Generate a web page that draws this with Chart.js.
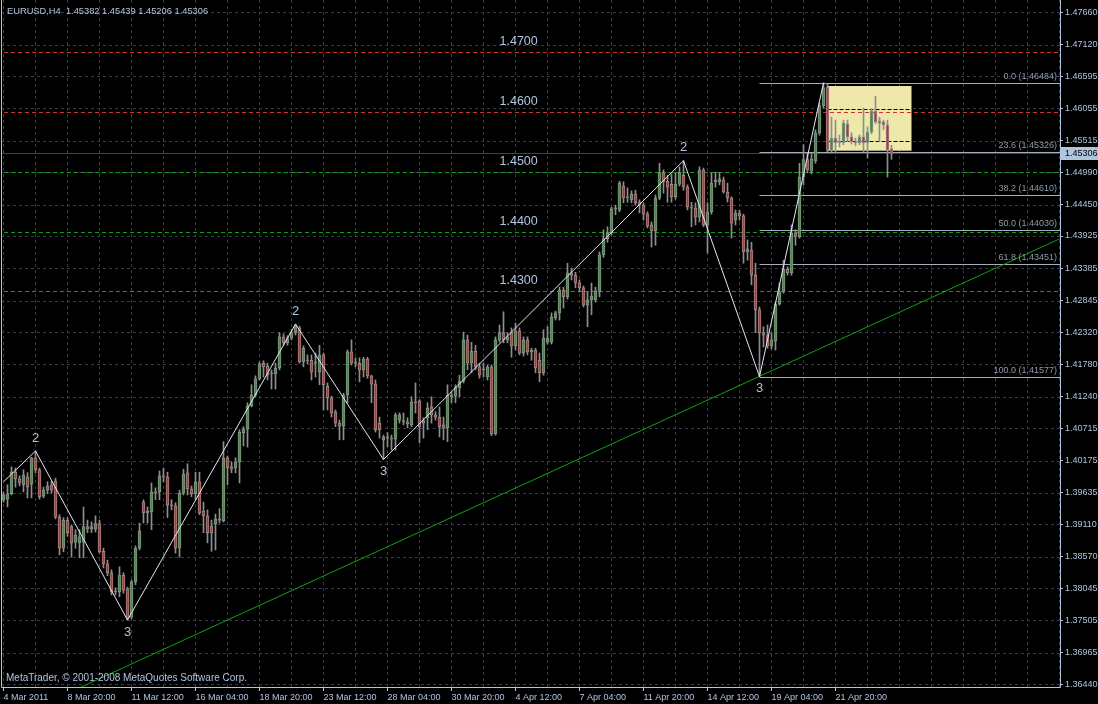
<!DOCTYPE html>
<html>
<head>
<meta charset="utf-8">
<title>EURUSD,H4</title>
<style>
  html, body { margin: 0; padding: 0; background: #000; }
  #wrap { width: 1098px; height: 704px; position: relative; background: #000; }
  canvas { display: block; }
</style>
<script src="https://cdn.jsdelivr.net/npm/chart.js@4.4.0/dist/chart.umd.min.js"></script>
</head>
<body>
<div id="wrap"><canvas id="chart" width="1098" height="704"></canvas></div>
<script>
// ---- instrument ----
const symbol = 'EURUSD';
const period = 'H4';

// ---- time axis labels (one every 16 bars) ----
const timeLabels = ['4 Mar 2011', '8 Mar 20:00', '11 Mar 12:00', '16 Mar 04:00', '18 Mar 20:00',
  '23 Mar 12:00', '28 Mar 04:00', '30 Mar 20:00', '4 Apr 12:00', '7 Apr 04:00', '11 Apr 20:00',
  '14 Apr 12:00', '19 Apr 04:00', '21 Apr 20:00'];

// ---- price axis labels ----
const priceTicks = [1.47660, 1.47120, 1.46595, 1.46055, 1.45515, 1.44990, 1.44450, 1.43925,
  1.43385, 1.42845, 1.42320, 1.41780, 1.41240, 1.40715, 1.40175, 1.39635, 1.39110, 1.38570,
  1.38045, 1.37505, 1.36965, 1.36440];

// ---- H4 candles ----
const opens = [
  1.3952,1.3953,1.3962,1.3998,1.3987,1.3977,1.3990,1.3978,1.4022,1.4002,
  1.3958,1.3968,1.3977,1.3983,1.3923,1.3871,1.3918,1.3907,1.3881,1.3880,
  1.3881,1.3907,1.3903,1.3903,1.3912,1.3866,1.3845,1.3830,1.3798,1.3798,
  1.3826,1.3803,1.3756,1.3815,1.3871,1.3948,1.3930,1.3932,1.3965,1.3965,
  1.3992,1.3990,1.3943,1.3942,1.3871,1.3963,1.3997,1.3970,1.3962,1.3982,
  1.3933,1.3925,1.3908,1.3912,1.3918,1.3917,1.4022,1.4007,1.4005,1.4015,
  1.4064,1.4070,1.4109,1.4127,1.4154,1.4180,1.4175,1.4162,1.4162,1.4172,
  1.4224,1.4214,1.4222,1.4231,1.4239,1.4182,1.4185,1.4185,1.4180,1.4165,
  1.4194,1.4142,1.4122,1.4099,1.4080,1.4075,1.4127,1.4199,1.4180,1.4180,
  1.4169,1.4187,1.4159,1.4145,1.4080,1.4052,1.4057,1.4055,1.4053,1.4085,
  1.4084,1.4082,1.4077,1.4115,1.4117,1.4080,1.4089,1.4107,1.4094,1.4090,
  1.4077,1.4072,1.4127,1.4125,1.4139,1.4150,1.4219,1.4180,1.4200,1.4174,
  1.4169,1.4157,1.4174,1.4062,1.4219,1.4231,1.4219,1.4231,1.4209,1.4234,
  1.4197,1.4219,1.4199,1.4202,1.4185,1.4164,1.4215,1.4215,1.4256,1.4264,
  1.4302,1.4291,1.4331,1.4327,1.4314,1.4306,1.4277,1.4286,1.4286,1.4299,
  1.4361,1.4388,1.4398,1.4438,1.4436,1.4476,1.4458,1.4453,1.4463,1.4449,
  1.4444,1.4429,1.4411,1.4401,1.4456,1.4498,1.4484,1.4479,1.4458,1.4479,
  1.4494,1.4474,1.4441,1.4439,1.4424,1.4503,1.4411,1.4433,1.4483,1.4483,
  1.4486,1.4466,1.4456,1.4419,1.4431,1.4426,1.4366,1.4369,1.4327,1.4269,
  1.4231,1.4226,1.4209,1.4217,1.4279,1.4299,1.4337,1.4331,1.4398,1.4391,
  1.4491,1.4520,1.4501,1.4518,1.4565,1.4610,1.4641,1.4536,1.4556,1.4548,
  1.4548,1.4580,1.4558,1.4550,1.4548,1.4558,1.4548,1.4566,1.4601,1.4585,
  1.4583,1.4578,1.45382];
const highs = [
  1.3965,1.3977,1.4007,1.4005,1.3992,1.4002,1.3997,1.4023,1.40334,1.4005,
  1.3973,1.3982,1.3983,1.3988,1.3927,1.3922,1.3922,1.3910,1.3902,1.3902,
  1.3940,1.3918,1.3915,1.3925,1.3918,1.3871,1.3851,1.3835,1.3805,1.3840,
  1.3830,1.3806,1.3818,1.3875,1.3913,1.3952,1.3940,1.3980,1.3972,1.4000,
  1.4005,1.3998,1.3952,1.3947,1.3968,1.4003,1.4012,1.3975,1.3998,1.3998,
  1.3948,1.3935,1.3918,1.3928,1.3937,1.4049,1.4025,1.4015,1.4022,1.4069,
  1.4074,1.4114,1.4144,1.4159,1.4182,1.4184,1.4180,1.4169,1.4180,1.4231,
  1.4229,1.4226,1.4236,1.42455,1.4242,1.4209,1.4194,1.4194,1.4197,1.4210,
  1.4197,1.4147,1.4125,1.4102,1.4085,1.4130,1.4202,1.4219,1.4189,1.4189,
  1.4190,1.4190,1.4160,1.4152,1.4090,1.4060,1.4064,1.4060,1.4097,1.4097,
  1.4097,1.4089,1.4124,1.4147,1.4119,1.4089,1.4114,1.4124,1.4099,1.4107,
  1.4090,1.4144,1.4132,1.4144,1.4160,1.4232,1.4227,1.4215,1.4210,1.4180,
  1.4180,1.4177,1.4177,1.4224,1.4244,1.4266,1.4231,1.4239,1.4247,1.4239,
  1.4224,1.4224,1.4205,1.4205,1.4197,1.4236,1.4241,1.4264,1.4267,1.4307,
  1.4307,1.4347,1.4339,1.4332,1.4319,1.4309,1.4299,1.4314,1.4307,1.4366,
  1.4403,1.4408,1.4441,1.4444,1.4484,1.4483,1.4473,1.4468,1.4469,1.4453,
  1.4448,1.4433,1.4416,1.4461,1.4514,1.4503,1.4494,1.4496,1.4498,1.4508,
  1.45183,1.4478,1.4449,1.4448,1.4508,1.4506,1.4448,1.4498,1.4499,1.4498,
  1.4491,1.4481,1.4458,1.4436,1.4436,1.4429,1.4386,1.4382,1.4347,1.4274,
  1.4241,1.4244,1.4231,1.4282,1.4314,1.4352,1.4341,1.4411,1.4403,1.4514,
  1.4545,1.4531,1.4531,1.4570,1.4615,1.46484,1.4646,1.4591,1.4586,1.4561,
  1.4586,1.4586,1.4565,1.4556,1.4561,1.4606,1.4575,1.4605,1.4626,1.4591,
  1.4586,1.4586,1.45439];
const lows = [
  1.3948,1.3940,1.3960,1.3973,1.3975,1.3965,1.3955,1.3955,1.3997,1.3953,
  1.3955,1.3962,1.3963,1.3920,1.3860,1.3865,1.3891,1.3856,1.3871,1.3855,
  1.3855,1.3897,1.3897,1.3898,1.3863,1.3838,1.3825,1.3793,1.3793,1.3790,
  1.3796,1.37511,1.3753,1.3810,1.3868,1.3913,1.3913,1.3902,1.3952,1.3952,
  1.3982,1.3922,1.3935,1.3863,1.3856,1.3960,1.3960,1.3957,1.3952,1.3927,
  1.3897,1.3880,1.3866,1.3868,1.3913,1.3915,1.3977,1.3997,1.3997,1.3980,
  1.4042,1.4040,1.4107,1.4124,1.4152,1.4157,1.4152,1.4137,1.4137,1.4169,
  1.4210,1.4210,1.4219,1.4227,1.4180,1.4174,1.4179,1.4152,1.4157,1.4144,
  1.4102,1.4102,1.4090,1.4074,1.4052,1.4052,1.4114,1.4177,1.4174,1.4149,
  1.4157,1.4155,1.4114,1.4065,1.4055,1.40192,1.4040,1.4035,1.4035,1.4080,
  1.4077,1.4072,1.4074,1.4097,1.4047,1.4055,1.4069,1.4080,1.4085,1.4057,
  1.4052,1.4049,1.4114,1.4114,1.4124,1.4147,1.4169,1.4164,1.4169,1.4155,
  1.4157,1.4152,1.4059,1.4060,1.4215,1.4214,1.4214,1.4190,1.4202,1.4194,
  1.4192,1.4194,1.4185,1.4164,1.4149,1.4160,1.4212,1.4212,1.4252,1.4252,
  1.4272,1.4287,1.4319,1.4306,1.4299,1.4274,1.4241,1.4261,1.4282,1.4291,
  1.4357,1.4382,1.4394,1.4428,1.4433,1.4448,1.4449,1.4448,1.4444,1.4431,
  1.4419,1.4406,1.4374,1.4377,1.4453,1.4464,1.4449,1.4449,1.4454,1.4476,
  1.4469,1.4436,1.4408,1.4411,1.4416,1.4408,1.4364,1.4429,1.4474,1.4478,
  1.4464,1.4449,1.4389,1.4411,1.4419,1.4347,1.4352,1.4311,1.4231,1.41577,
  1.4207,1.4205,1.4204,1.4202,1.4277,1.4297,1.4327,1.4327,1.4377,1.4389,
  1.4478,1.4498,1.4496,1.4514,1.4561,1.4606,1.4533,1.4531,1.4531,1.4541,
  1.4545,1.4550,1.4546,1.4543,1.4545,1.4533,1.4523,1.4563,1.4580,1.4550,
  1.4570,1.4491,1.45206];
const closes = [
  1.3960,1.3962,1.3998,1.3987,1.3980,1.3993,1.3973,1.4022,1.4002,1.3957,
  1.3968,1.3975,1.3968,1.3923,1.3871,1.3918,1.3897,1.3880,1.3893,1.3890,
  1.3907,1.3903,1.3907,1.3912,1.3865,1.3845,1.3830,1.3798,1.3800,1.3826,
  1.3801,1.3754,1.3815,1.3871,1.3900,1.3930,1.3933,1.3965,1.3963,1.3992,
  1.3990,1.3943,1.3942,1.3871,1.3963,1.3995,1.3970,1.3962,1.3982,1.3930,
  1.3925,1.3897,1.3897,1.3920,1.3920,1.4022,1.4005,1.4003,1.4015,1.4065,
  1.4070,1.4109,1.4127,1.4154,1.4179,1.4174,1.4160,1.4164,1.4172,1.4224,
  1.4214,1.4221,1.4231,1.4242,1.4182,1.4205,1.4184,1.4165,1.4182,1.4194,
  1.4144,1.4122,1.4097,1.4080,1.4075,1.4127,1.4199,1.4180,1.4182,1.4169,
  1.4187,1.4159,1.4145,1.4069,1.4069,1.4057,1.4055,1.4053,1.4094,1.4094,
  1.4082,1.4079,1.4115,1.4114,1.4074,1.4084,1.4105,1.4094,1.4090,1.4074,
  1.4072,1.4127,1.4124,1.4140,1.4150,1.4219,1.4180,1.4200,1.4174,1.4160,
  1.4170,1.4174,1.4062,1.4219,1.4231,1.4219,1.4224,1.4209,1.4234,1.4197,
  1.4219,1.4199,1.4202,1.4172,1.4164,1.4222,1.4222,1.4257,1.4264,1.4302,
  1.4291,1.4331,1.4327,1.4314,1.4306,1.4277,1.4286,1.4292,1.4301,1.4361,
  1.4388,1.4398,1.4438,1.4439,1.4481,1.4456,1.4456,1.4463,1.4448,1.4444,
  1.4429,1.4409,1.4401,1.4456,1.4498,1.4483,1.4474,1.4458,1.4479,1.4498,
  1.4474,1.4441,1.4439,1.4424,1.4503,1.4411,1.4433,1.4481,1.4486,1.4488,
  1.4466,1.4456,1.4414,1.4431,1.4426,1.4366,1.4371,1.4327,1.4269,1.4231,
  1.4227,1.4209,1.4219,1.4279,1.4299,1.4337,1.4331,1.4398,1.4392,1.4491,
  1.4520,1.4503,1.4521,1.4565,1.4610,1.4640,1.4536,1.4556,1.4548,1.4551,
  1.4581,1.4558,1.4550,1.4548,1.4558,1.4548,1.4566,1.4601,1.4583,1.4581,
  1.4578,1.4536,1.45306];

// ---- ZigZag swings (bar index, price, wave tag) ----
const zigzagBars   = [0, 8, 31, 73, 95, 170, 189, 205];
const zigzagPrices = [1.3982, 1.40334, 1.37511, 1.42455, 1.40192, 1.45183, 1.41577, 1.46484];
const zigzagTags   = ['', '2', '3', '2', '3', '2', '3', ''];

// ---- round-number levels ----
const levelPrices = [1.4700, 1.4600, 1.4500, 1.4400, 1.4300];
const levelNames  = ['1.4700', '1.4600', '1.4500', '1.4400', '1.4300'];
const levelKinds  = ['red', 'red', 'green', 'green', 'green'];
const levelLabelBar = 124;

// ---- Fibonacci retracement of the last swing ----
const fibStartBar = 189;
const fibRatios = [0.0, 23.6, 38.2, 50.0, 61.8, 100.0];
const fibPrices = [1.46484, 1.45326, 1.44610, 1.44030, 1.43451, 1.41577];

// ---- support trendline anchors ----
const trendBars   = [18, 266];
const trendPrices = [1.36348, 1.43938];

// ---- consolidation rectangle ----
const boxBars   = [206, 227];
const boxPrices = [1.4643, 1.4535];
const boxInnerPrices = [1.46041, 1.45512];

// ---- visible window ----
const viewBars   = [-0.625, 264.125];
const viewPrices = [1.36392, 1.47867];

// ---- palette ----
const C = {
  text: '#b0c4de',
  grid: '#3a3a4a',
  wick: '#8e8e8e',
  bull: '#2f9a2f',
  bear: '#d42a2a',
  zigzag: '#e2e6f6',
  trend: '#12a012',
  levelRed: '#d03232',
  levelGreen: '#12a012',
  fibLine: '#a6aebb',
  fibText: '#8e9aa8',
  box: '#eee8aa',
  bid: '#3c4252'
};
const FONT = '"Liberation Sans", Arial, sans-serif';

const lastIdx = closes.length - 1;
const bid = closes[lastIdx];

const datasets = [];

// candle bodies (drawn above wicks)
datasets.push({
  type: 'bar', label: 'body', order: 4, grouped: false,
  data: opens.map((o, i) => ({ x: i, y: [o, closes[i]] })),
  backgroundColor: opens.map((o, i) => closes[i] >= o ? C.bull : C.bear),
  borderColor: C.wick, borderWidth: 1, borderSkipped: false,
  barThickness: 3, minBarLength: 1
});
// candle wicks
datasets.push({
  type: 'bar', label: 'wick', order: 5, grouped: false,
  data: lows.map((l, i) => ({ x: i, y: [l, highs[i]] })),
  backgroundColor: C.wick, borderWidth: 0, barThickness: 1, minBarLength: 1
});
// zigzag
datasets.push({
  type: 'line', label: 'zigzag', order: 1,
  data: zigzagBars.map((b, i) => ({ x: b, y: zigzagPrices[i] })),
  borderColor: C.zigzag, borderWidth: 1, pointRadius: 0, tension: 0, fill: false
});
// trendline
datasets.push({
  type: 'line', label: 'trend', order: 6,
  data: trendBars.map((b, i) => ({ x: b, y: trendPrices[i] })),
  borderColor: C.trend, borderWidth: 1, pointRadius: 0, fill: false
});

// horizontal price line, snapped to the pixel grid
function priceLine(ctx, x, y, price, fromBar, toBar, color, dash) {
  const py = Math.round(y.getPixelForValue(price)) + 0.5;
  const x0 = x.getPixelForValue(fromBar);
  const x1 = x.getPixelForValue(toBar);
  ctx.strokeStyle = color;
  ctx.lineWidth = 1;
  ctx.setLineDash(dash || []);
  ctx.beginPath();
  ctx.moveTo(x0, py);
  ctx.lineTo(x1, py);
  ctx.stroke();
  ctx.setLineDash([]);
}

const overlay = {
  id: 'overlay',
  beforeDatasetsDraw(chart) {
    const { ctx, chartArea: a, scales: { x, y } } = chart;
    ctx.save();
    ctx.beginPath();
    ctx.rect(a.left, a.top, a.right - a.left, a.bottom - a.top);
    ctx.clip();

    // dashed grid on the scale ticks
    ctx.strokeStyle = C.grid;
    ctx.lineWidth = 1;
    ctx.setLineDash([3, 3]);
    ctx.beginPath();
    x.ticks.forEach((t) => {
      const px = Math.floor(x.getPixelForValue(t.value)) + 0.5;
      ctx.moveTo(px, a.top);
      ctx.lineTo(px, a.bottom);
    });
    y.ticks.forEach((t) => {
      const py = Math.round(y.getPixelForValue(t.value)) + 0.5;
      ctx.moveTo(a.left, py);
      ctx.lineTo(a.right, py);
    });
    ctx.stroke();
    ctx.setLineDash([]);

    // rectangle
    const x0 = Math.round(x.getPixelForValue(boxBars[0])) - 0.5;
    const x1 = Math.round(x.getPixelForValue(boxBars[1])) - 0.5;
    const y0 = y.getPixelForValue(boxPrices[0]);
    const y1 = y.getPixelForValue(boxPrices[1]);
    ctx.fillStyle = C.box;
    ctx.fillRect(x0, y0, x1 - x0, y1 - y0);

    const left = viewBars[0] - 1, right = viewBars[1] + 1;
    // round-number levels
    levelPrices.forEach((p, i) => priceLine(ctx, x, y, p, left, right,
      levelKinds[i] === 'red' ? C.levelRed : C.levelGreen, [4, 3]));
    // bid line
    priceLine(ctx, x, y, bid, left, right, C.bid);
    // fibonacci levels
    fibPrices.forEach((p) => priceLine(ctx, x, y, p, fibStartBar, right, C.fibLine));
    // rectangle inner lines
    boxInnerPrices.forEach((p) => priceLine(ctx, x, y, p, boxBars[0], boxBars[1], '#000', [4, 2]));
    ctx.restore();
  },
  afterDraw(chart) {
    const { ctx, chartArea: a, scales: { x, y } } = chart;
    ctx.save();
    // frame
    ctx.strokeStyle = C.text;
    ctx.lineWidth = 1;
    ctx.beginPath();
    ctx.moveTo(a.left + 0.5, a.top);
    ctx.lineTo(a.left + 0.5, a.bottom + 0.5);
    ctx.lineTo(a.right + 0.5, a.bottom + 0.5);
    ctx.lineTo(a.right + 0.5, a.top);
    ctx.stroke();

    ctx.save();
    ctx.beginPath();
    ctx.rect(a.left, a.top, a.right - a.left, a.bottom - a.top);
    ctx.clip();

    // round-number level captions
    ctx.font = '12.5px ' + FONT;
    ctx.fillStyle = C.text;
    ctx.textAlign = 'left';
    ctx.textBaseline = 'middle';
    levelPrices.forEach((p, i) => {
      ctx.fillText(levelNames[i], x.getPixelForValue(levelLabelBar), Math.round(y.getPixelForValue(p)) - 10);
    });

    // fibonacci captions
    ctx.font = '9px ' + FONT;
    ctx.fillStyle = C.fibText;
    ctx.textAlign = 'right';
    ctx.textBaseline = 'middle';
    fibPrices.forEach((p, i) => {
      ctx.fillText(fibRatios[i].toFixed(1) + ' (' + p.toFixed(5) + ')', a.right - 3, Math.round(y.getPixelForValue(p)) - 6);
    });

    // zigzag wave tags
    ctx.font = '13px ' + FONT;
    ctx.fillStyle = C.text;
    ctx.textAlign = 'center';
    ctx.textBaseline = 'middle';
    zigzagBars.forEach((b, i) => {
      const tag = zigzagTags[i];
      if (!tag) return;
      const px = x.getPixelForValue(b);
      const py = y.getPixelForValue(zigzagPrices[i]);
      ctx.fillText(tag, px, tag === '2' ? py - 13 : py + 12);
    });

    // header and copyright
    ctx.fillStyle = C.text;
    ctx.textAlign = 'left';
    ctx.textBaseline = 'middle';
    const head = symbol + ',' + period + '  ' + [opens[lastIdx], highs[lastIdx], lows[lastIdx], closes[lastIdx]]
      .map((v) => v.toFixed(5)).join(' ');
    ctx.font = '9.3px ' + FONT;
    ctx.fillText(head, 7, 11);
    ctx.font = '10px ' + FONT;
    ctx.fillText('MetaTrader, \u00a9 2001-2008 MetaQuotes Software Corp.', 6, a.bottom - 9);
    ctx.restore();

    // bid tag on the price axis
    const by = Math.round(y.getPixelForValue(bid));
    ctx.fillStyle = C.text;
    ctx.fillRect(a.right + 1, by - 6, chart.width - a.right - 1, 13);
    ctx.fillStyle = '#000';
    ctx.font = '9px ' + FONT;
    ctx.textAlign = 'left';
    ctx.textBaseline = 'middle';
    ctx.fillText(bid.toFixed(5), a.right + 5, by + 0.5);
    ctx.restore();
  }
};

new Chart(document.getElementById('chart'), {
  type: 'bar',
  data: { datasets },
  options: {
    responsive: false,
    animation: false,
    devicePixelRatio: 1,
    events: [],
    layout: { padding: { left: 1, right: 0, top: 0, bottom: 0 } },
    plugins: { legend: { display: false }, tooltip: { enabled: false } },
    scales: {
      x: {
        type: 'linear',
        min: viewBars[0], max: viewBars[1],
        offset: false,
        afterFit: (s) => { s.height = 17; s.paddingLeft = 0; s.paddingRight = 0; },
        afterBuildTicks: (s) => {
          const t = [];
          for (let v = 0; v <= viewBars[1]; v += 8) t.push({ value: v });
          s.ticks = t;
        },
        grid: {
          offset: false, drawOnChartArea: false, color: C.grid, tickLength: 4,
          tickColor: (c) => (c.tick && c.tick.value % 16 === 0 && timeLabels[c.tick.value / 16]) ? C.text : 'rgba(0,0,0,0)'
        },
        border: { display: false },
        ticks: {
          autoSkip: false, maxRotation: 0, minRotation: 0, align: 'start', padding: 1,
          color: C.text, font: { family: FONT, size: 9 },
          callback: (v) => (v % 16 === 0 && timeLabels[v / 16]) ? timeLabels[v / 16] : ''
        }
      },
      y: {
        type: 'linear', position: 'right',
        min: viewPrices[0], max: viewPrices[1],
        afterFit: (s) => { s.width = 38; s.paddingTop = 0; s.paddingBottom = 0; },
        afterBuildTicks: (s) => { s.ticks = priceTicks.map((v) => ({ value: v })); },
        grid: { drawOnChartArea: false, color: C.grid, tickLength: 3, tickColor: C.text },
        border: { display: false },
        ticks: {
          autoSkip: false, padding: 2, color: C.text, font: { family: FONT, size: 9 },
          callback: (v) => Number(v).toFixed(5)
        }
      }
    }
  },
  plugins: [overlay]
});
</script>
</body>
</html>
